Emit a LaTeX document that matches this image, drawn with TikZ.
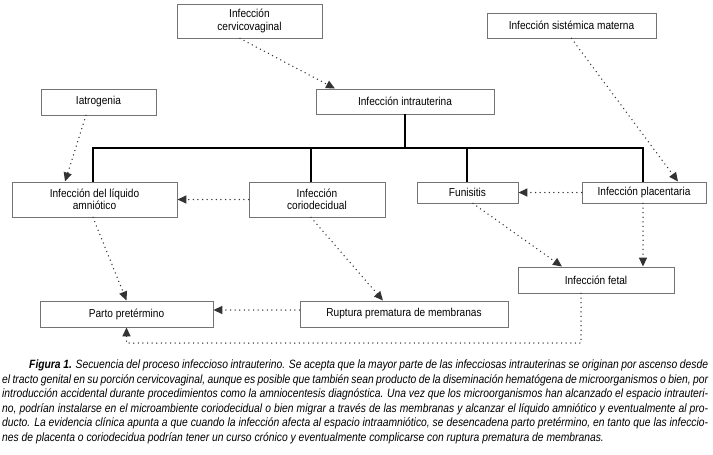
\documentclass[tikz,border=0pt]{standalone}
\usepackage{fontspec}
\setmainfont[FakeStretch=0.88]{Liberation Sans}
\newfontfamily\piefont[FakeStretch=0.86]{Liberation Sans}
\usetikzlibrary{calc, arrows.meta}
\tikzset{
  box/.style={
    rectangle, draw=black!55, line width=0.9pt, fill=white,
    text centered, align=center, inner sep=1pt,
    font=\fontsize{11.5}{12.5}\selectfont
  },
  arrow/.style={
    -{Triangle[length=9pt,width=8pt]}, line width=1.5pt, color=black!80,
    line cap=round, dash pattern=on 0pt off 4.6pt
  },
  tree/.style={
    line width=1.3pt, color=black
  },
  caption/.style={
    inner sep=0pt, align=left, anchor=north west,
    font=\piefont\fontsize{12}{14.5}\selectfont\itshape
  }
}

\begin{document}
\begin{tikzpicture}[x=1pt, y=-1pt]
      \useasboundingbox (0,0) rectangle (713,455);

      % Origins
      \node[box, minimum width=145pt, minimum height=34pt] (cervico) at (249.5,21) {Infección\\cervicovaginal};
      \node[box, minimum width=169pt, minimum height=25pt] (sistemica) at (571.5,25.5) {Infección sistémica materna};
      \node[box, minimum width=115pt, minimum height=26pt] (iatro) at (98.5,102) {Iatrogenia};
      \node[box, minimum width=178pt, minimum height=25pt] (intra) at (405,101.5) {Infección intrauterina};

      % Sites
      \node[box, minimum width=165pt, minimum height=35pt] (liquido) at (94.5,199.5) {Infección del líquido\\amniótico};
      \node[box, minimum width=136pt, minimum height=35pt] (corio) at (317,199.5) {Infección\\coriodecidual};
      \node[box, minimum width=101pt, minimum height=21pt] (funis) at (467.5,192.5) {Funisitis};
      \node[box, minimum width=124pt, minimum height=21pt] (placenta) at (644,192.5) {Infección placentaria};

      % Outcomes
      \node[box, minimum width=156pt, minimum height=26pt] (fetal) at (596,280) {Infección fetal};
      \node[box, minimum width=173pt, minimum height=26pt] (parto) at (126.5,314) {Parto pretérmino};
      \node[box, minimum width=208pt, minimum height=26pt] (ruptura) at (404,314) {Ruptura prematura de membranas};

      % Tree
      \coordinate (ramaA) at (93,148);
      \coordinate (ramaB) at (311,148);
      \coordinate (ramaC) at (467,148);
      \coordinate (ramaD) at (643,148);
      \draw[tree] (intra.south) -- (intra.south |- ramaA);
      \draw[tree] (liquido.north -| ramaA) -- (ramaA) -- (ramaD) -- (placenta.north -| ramaD);
      \draw[tree] (ramaB) -- (corio.north -| ramaB);
      \draw[tree] (ramaC) -- (funis.north -| ramaC);

      % Spreading
      \draw[arrow] ($(cervico.south)+(-9.5,0)$) -- ($(intra.north)+(-70,0)$);
      \draw[arrow] ($(iatro.south)+(-12.5,0)$) -- ($(liquido.north)+(-29.5,0)$);
      \draw[arrow] (sistemica.south) -- ($(placenta.north)+(34,0)$);
      \draw[arrow] (corio.west) -- (liquido.east);
      \draw[arrow] (placenta.west) -- (funis.east);
      \draw[arrow] ($(liquido.south)+(-1.5,0)$) -- (parto.north);
      \draw[arrow] ($(corio.south)+(-6,0)$) -- ($(ruptura.north)+(-21,0)$);
      \draw[arrow] ($(funis.south)+(5.5,0)$) -- ($(fetal.north)+(-34,0)$);
      \draw[arrow] ($(placenta.south)+(-1,0)$) -- ($(fetal.north)+(47,0)$);
      \draw[arrow] ($(ruptura.west)+(0,-4)$) -- ($(parto.east)+(0,-4)$);
      \coordinate (codo) at (581,343);
      \draw[arrow] (fetal.south -| codo) -- (codo) -| (parto.south);

      % Caption
      \node[caption] (pie) at (2,360) {%
        \makebox[706pt][s]{\hspace*{27pt}\textbf{Figura 1.} Secuencia del proceso infeccioso intrauterino. Se acepta que la mayor parte de las infecciosas intrauterinas se originan por ascenso desde}\\
        \makebox[706pt][s]{el tracto genital en su porción cervicovaginal, aunque es posible que también sean producto de la diseminación hematógena de microorganismos o bien, por}\\
        \makebox[706pt][s]{introducción accidental durante procedimientos como la amniocentesis diagnóstica. Una vez que los microorganismos han alcanzado el espacio intrauteri-}\\
        \makebox[706pt][s]{no, podrían instalarse en el microambiente coriodecidual o bien migrar a través de las membranas y alcanzar el líquido amniótico y eventualmente al pro-}\\
        \makebox[706pt][s]{ducto. La evidencia clínica apunta a que cuando la infección afecta al espacio intraamniótico, se desencadena parto pretérmino, en tanto que las infeccio-}\\
        nes de placenta o coriodecidua podrían tener un curso crónico y eventualmente complicarse con ruptura prematura de membranas.};
    \end{tikzpicture}
\end{document}
